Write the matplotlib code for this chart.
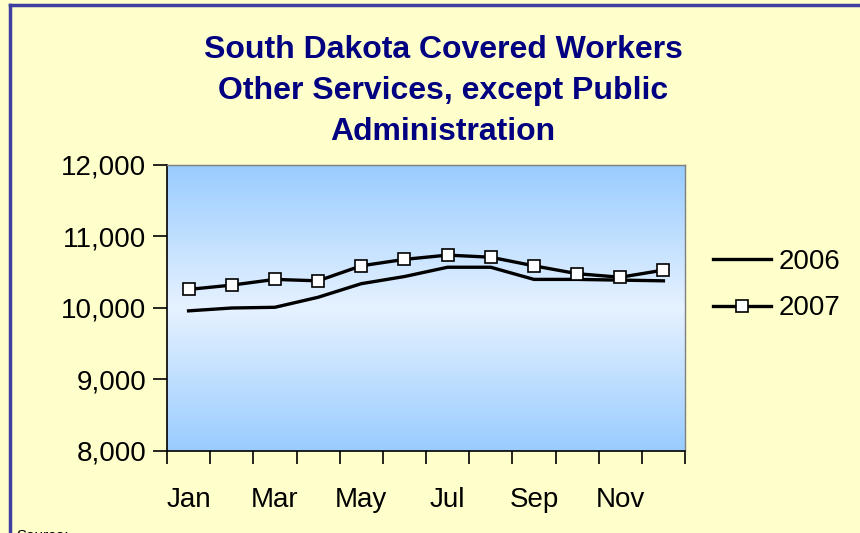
import numpy as np
import matplotlib
matplotlib.use("Agg")
import matplotlib.pyplot as plt
from matplotlib.colors import LinearSegmentedColormap
from matplotlib.lines import Line2D

plt.rcParams['font.family'] = ['Liberation Sans', 'DejaVu Sans']

# data
months = ['Jan', 'Feb', 'Mar', 'Apr', 'May', 'Jun',
          'Jul', 'Aug', 'Sep', 'Oct', 'Nov', 'Dec']
workers_2006 = [9960, 10000, 10010, 10150, 10340, 10440,
                10570, 10570, 10400, 10400, 10390, 10380]
workers_2007 = [10260, 10320, 10400, 10380, 10590, 10680,
                10740, 10710, 10590, 10480, 10430, 10530]
y_ticks = [8000, 9000, 10000, 11000, 12000]

title = "South Dakota Covered Workers\nOther Services, except Public\nAdministration"

fig = plt.figure(figsize=(8.6, 5.33), dpi=100)
fig.patch.set_facecolor('#FFFFCC')

ax = fig.add_axes([167/860, 1 - 451/533, 518/860, 286/533])

x = np.arange(len(months))

# gradient backdrop: blue - pale - blue
cmap = LinearSegmentedColormap.from_list('bg', ['#99CCFF', '#E6F2FF', '#99CCFF'])
grad = np.linspace(0, 1, 256).reshape(-1, 1)
ax.imshow(grad, cmap=cmap, aspect='auto', extent=[-0.5, 11.5, 8000, 12000],
          origin='upper', zorder=0)

ax.plot(x, workers_2006, color='black', lw=2.4, label='2006', zorder=3)
ax.plot(x, workers_2007, color='black', lw=2.4, marker='s', markersize=8,
        markerfacecolor='white', markeredgecolor='black', markeredgewidth=1.2,
        label='2007', zorder=4)

ax.set_xlim(-0.5, 11.5)
ax.set_ylim(8000, 12000)
ax.set_yticks(y_ticks)
ax.set_yticklabels([f"{v:,}" for v in y_ticks])

# category axis: ticks between months, labels on every other month
ax.set_xticks(np.arange(-0.5, 12, 1))
ax.set_xticklabels([])
ax.set_xticks(x[::2], minor=True)
ax.set_xticklabels(months[::2], minor=True)
ax.tick_params(axis='x', which='major', length=9, width=1.2, direction='out')
ax.tick_params(axis='x', which='minor', length=0, pad=26, labelsize=20)
ax.tick_params(axis='y', length=10, width=1.2, pad=5, labelsize=20)

for side in ['top', 'right']:
    ax.spines[side].set_color('#7F7F7F')
    ax.spines[side].set_linewidth(1.0)
for side in ['left', 'bottom']:
    ax.spines[side].set_color('black')
    ax.spines[side].set_linewidth(1.2)

fig.text(443/860, 1 - 91/533, title, ha='center', va='center',
         fontsize=23, fontweight='bold', color='#000080', linespacing=1.5)

leg = fig.legend(loc='center left', bbox_to_anchor=(713/860, 1 - 285/533),
                 frameon=False, fontsize=20, handlelength=2.1,
                 handletextpad=0.25, labelspacing=0.75,
                 borderpad=0, borderaxespad=0)

# outer chart frame (cut at right and bottom)
fig.add_artist(Line2D([10/860, 10/860], [0, 1 - 5/533], color='#3F3FA0', lw=2.5))
fig.add_artist(Line2D([10/860, 1], [1 - 5/533, 1 - 5/533], color='#3F3FA0', lw=2.5))

fig.text(16/860, 4/533, "Source:", ha='left', va='top', fontsize=11, color='black')

fig.savefig('out.png', dpi=100, facecolor=fig.get_facecolor())
